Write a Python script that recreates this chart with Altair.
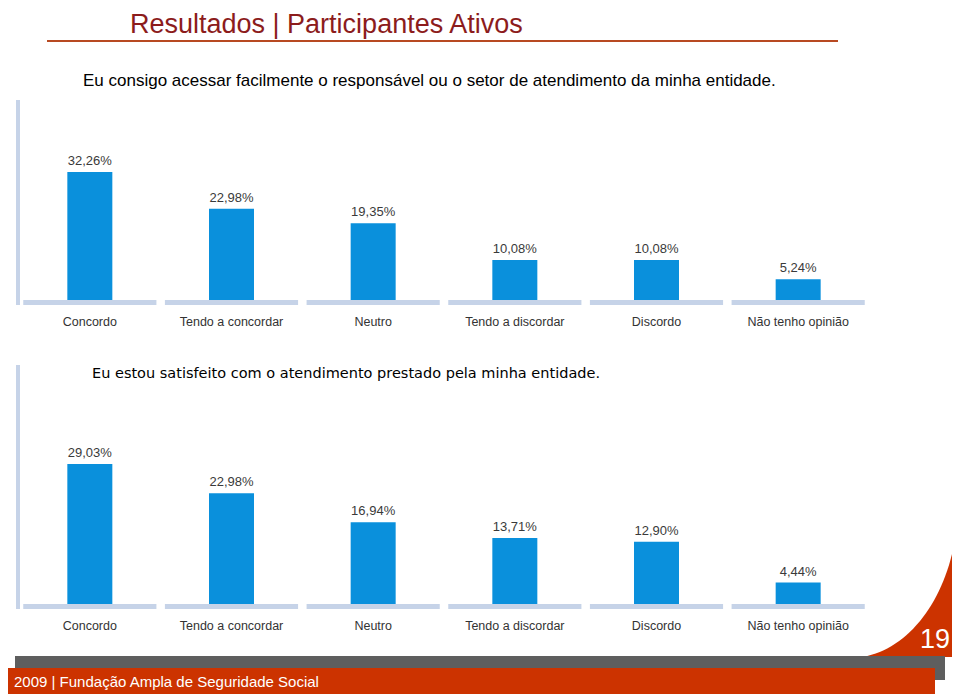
import altair as alt
import pandas as pd

# ---------------- data ----------------
categories = ["Concordo", "Tendo a concordar", "Neutro",
              "Tendo a discordar", "Discordo", "Não tenho opinião"]
values_q1 = [32.26, 22.98, 19.35, 10.08, 10.08, 5.24]
values_q2 = [29.03, 22.98, 16.94, 13.71, 12.90, 4.44]

title_text = "Resultados | Participantes Ativos"
question_1 = "Eu consigo acessar facilmente o responsável ou o setor de atendimento da minha entidade."
question_2 = "Eu estou satisfeito com o atendimento prestado pela  minha entidade."
footer_text = "2009 | Fundação Ampla de Seguridade Social"
page_number = "19"


def pct(v):
    return f"{v:.2f}".replace(".", ",") + "%"


df1 = pd.DataFrame({"cat": categories, "v": values_q1, "lab": [pct(v) for v in values_q1]})
df2 = pd.DataFrame({"cat": categories, "v": values_q2, "lab": [pct(v) for v in values_q2]})
one = pd.DataFrame({"a": [0]})

BLUE = "#0A90DC"
PALE = "#C6D3E8"
RED = "#CC3300"
GRAY = "#5E5E5E"
SANS = "Liberation Sans, Arial, sans-serif"

xscale = alt.Scale(domain=categories, range=[11, 861], paddingInner=0, paddingOuter=0)
X = alt.X("cat:N", scale=xscale, axis=None, sort=categories)


def rect(x1, x2, y1, y2, color):
    return alt.Chart(one).mark_rect(color=color).encode(
        x=alt.value(x1), x2=alt.value(x2), y=alt.value(y1), y2=alt.value(y2))


def label(x, y, txt, size, color, font=SANS, align="left", weight="normal"):
    return alt.Chart(one).mark_text(
        align=align, baseline="alphabetic", fontSize=size, color=color,
        font=font, fontWeight=weight).encode(
        x=alt.value(x), y=alt.value(y), text=alt.value(txt))


def panel(df, base, top):
    ys = alt.Scale(domain=[0, 35], range=[base, top])
    Y = alt.Y("v:Q", scale=ys, axis=None)
    seg = alt.Chart(df).mark_bar(color=PALE, width=alt.RelativeBandSize(0.94)).encode(
        x=X, y=alt.value(base), y2=alt.value(base + 5))
    bars = alt.Chart(df).mark_bar(color=BLUE, size=45).encode(x=X, y=Y)
    vals = alt.Chart(df).mark_text(dy=-7, baseline="alphabetic", fontSize=13,
                                   color="#3A3A3A", font=SANS).encode(
        x=X, y=Y, text="lab:N")
    cats = alt.Chart(df).mark_text(baseline="alphabetic", fontSize=12.5,
                                   color="#333333", font=SANS).encode(
        x=X, y=alt.value(base + 26), text="cat:N")
    return [seg, bars, vals, cats]


ellipse_path = "M -1 0 A 1 1.435 0 1 0 1 0 A 1 1.435 0 1 0 -1 0 Z"
ellipse = alt.Chart(one).mark_point(
    shape=ellipse_path, size=46656, filled=True, color="white",
    opacity=1, strokeWidth=0).encode(x=alt.value(842), y=alt.value(495))

layers = [
    rect(832, 944, 480, 649, RED),
    ellipse,
    rect(7, 937, 648, 672, GRAY),
    rect(0, 927, 660, 686, RED),
    label(6, 679, footer_text, 15, "white"),
    label(942, 640, page_number, 27, "white", align="right"),
    label(122, 25, title_text, 27, "#8C1C1C"),
    rect(39, 830, 32, 34, "#B84A22"),
    label(75, 78, question_1, 17, "black"),
    label(84, 370, question_2, 14.5, "black", font="DejaVu Sans, Verdana, sans-serif"),
    rect(8, 12, 92, 297, PALE),
    rect(8, 12, 357, 601, PALE),
]
layers += panel(df1, 292, 292 - 35 * 3.97)
layers += panel(df2, 596, 596 - 35 * 4.82)

chart = alt.layer(*layers).resolve_scale(y="independent").properties(
    width=944, height=686, padding=0,
    autosize=alt.AutoSizeParams(type="none"),
).configure_view(stroke=None)

chart.save("out.html", embed_options={"renderer": "svg", "actions": False})
